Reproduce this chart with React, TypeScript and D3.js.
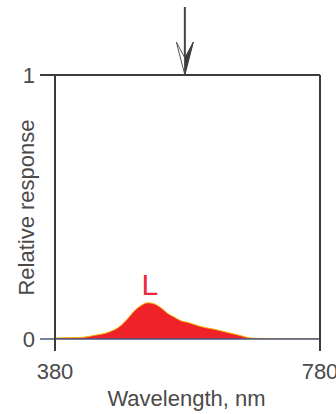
import React from "react";
import * as d3 from "d3";

const wavelengths = [380, 400, 420, 440, 460, 480, 490, 500, 510, 520, 530, 540, 550, 560, 570, 580, 590, 600, 620, 640, 660, 670, 680, 700, 740, 780];
const responses = [0.004, 0.005, 0.006, 0.014, 0.025, 0.052, 0.078, 0.107, 0.127, 0.137, 0.133, 0.118, 0.097, 0.083, 0.069, 0.063, 0.055, 0.047, 0.037, 0.025, 0.013, 0.006, 0.003, 0.002, 0.002, 0.002];
const xTicks = [380, 780];
const yTicks = [0, 1];
const curveLabel = "L";
const arrowWavelength = 576;

export default function App() {
  const W = 336, H = 414;
  const left = 55, right = 320, top = 75, bottom = 339;
  const x = d3.scaleLinear().domain([380, 780]).range([left, right]);
  const y = d3.scaleLinear().domain([0, 1]).range([bottom, top]);
  const data = wavelengths.map((w, i) => ({ w, v: responses[i] }));
  const area = d3.area<{ w: number; v: number }>()
    .x(d => x(d.w)).y0(y(0)).y1(d => y(d.v)).curve(d3.curveMonotoneX);
  const line = d3.line<{ w: number; v: number }>()
    .x(d => x(d.w)).y(d => y(d.v)).curve(d3.curveMonotoneX);
  const peak = data.reduce((a, b) => (b.v > a.v ? b : a));
  const ax = x(arrowWavelength);
  const font = "'Liberation Sans', Arial, Helvetica, sans-serif";
  const txt = "#4a4a4a";
  const axisC = "#3c3c3c";
  return (
    <svg width={W} height={H} style={{ position: "absolute", left: 0, top: 0, background: "#fff" }}>
      <path d={area(data) || ""} fill="#ee2228" />
      <path d={line(data) || ""} fill="none" stroke="#f6b400" strokeWidth={1} />
      {/* frame */}
      <line x1={40} x2={right} y1={y(1)} y2={y(1)} stroke={axisC} strokeWidth={2} />
      <line x1={40} x2={right} y1={y(0)} y2={y(0)} stroke="#4a5680" strokeWidth={1.6} />
      <line x1={left} x2={left} y1={top} y2={bottom + 12} stroke={axisC} strokeWidth={2} />
      <line x1={right} x2={right} y1={top} y2={bottom + 12} stroke={axisC} strokeWidth={2} />
      {yTicks.map(t => (
        <text key={t} x={35} y={y(t) + 8} textAnchor="end" fontFamily={font} fontSize={22} fill={txt}>{t}</text>
      ))}
      {xTicks.map(t => (
        <text key={t} x={x(t)} y={379} textAnchor="middle" fontFamily={font} fontSize={22} fill={txt}>{t}</text>
      ))}
      <text x={186.5} y={406} textAnchor="middle" fontFamily={font} fontSize={22} fill={txt}>Wavelength, nm</text>
      <text transform="translate(33.5,207.5) rotate(-90)" textAnchor="middle" fontFamily={font} fontSize={22} fill={txt}>Relative response</text>
      <text x={x(peak.w) + 2} y={295} textAnchor="middle" fontFamily={font} fontSize={30} fill="#ee2a3c">{curveLabel}</text>
      {/* arrow */}
      <line x1={ax} x2={ax} y1={7} y2={58} stroke="#444" strokeWidth={2} />
      <path d={`M${ax},58 L${ax - 8.5},42 L${ax},${top} Z`} fill="#fff" stroke="#555" strokeWidth={1} />
      <path d={`M${ax},58 L${ax + 8.5},42 L${ax},${top} Z`} fill="#3a3a3a" stroke="#3a3a3a" strokeWidth={1} />
    </svg>
  );
}
